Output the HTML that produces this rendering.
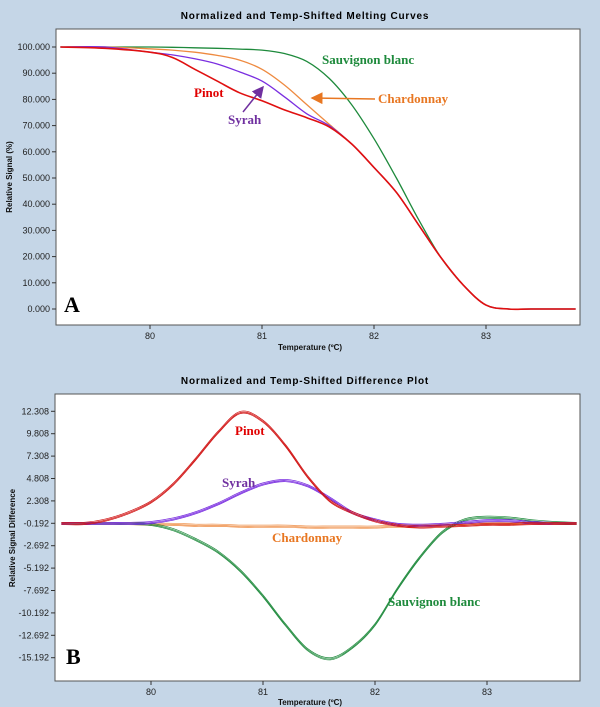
<!DOCTYPE html>
<html><head><meta charset="utf-8">
<style>
html,body{margin:0;padding:0;background:#c5d6e7;}
svg{display:block;}
.t{font-family:"Liberation Sans",sans-serif;font-weight:bold;font-size:10px;letter-spacing:0.8px;fill:#000}
.tk{font-family:"Liberation Sans",sans-serif;font-size:9px;fill:#222}
.ax{font-family:"Liberation Sans",sans-serif;font-size:8px;font-weight:bold;fill:#111}
.lb{font-family:"Liberation Serif",serif;font-weight:bold;font-size:13px}
.big{font-family:"Liberation Serif",serif;font-weight:bold;font-size:22px;fill:#000}
</style></head>
<body>
<svg id="c" width="600" height="707" xmlns="http://www.w3.org/2000/svg">
<defs>
<marker id="ap" markerWidth="8" markerHeight="8" refX="7" refY="4" orient="auto"><path d="M0,0 L8,4 L0,8 z" fill="#7030a0"/></marker>
<marker id="ao" markerWidth="8" markerHeight="8" refX="7" refY="4" orient="auto"><path d="M0,0 L8,4 L0,8 z" fill="#e87722"/></marker>
</defs>
<text class="t" x="305" y="19" text-anchor="middle">Normalized and Temp-Shifted Melting Curves</text>
<rect x="56" y="29" width="524" height="296" fill="#fff" stroke="#555"/>
<text class="t" x="305" y="384" text-anchor="middle">Normalized and Temp-Shifted Difference Plot</text>
<rect x="55" y="394" width="525" height="287" fill="#fff" stroke="#555"/>
<g id="ga"></g><g id="gb"></g>
<text class="ax" x="310" y="350" text-anchor="middle">Temperature (ºC)</text>
<text class="ax" x="310" y="705" text-anchor="middle">Temperature (ºC)</text>
<text class="ax" transform="translate(12,177) rotate(-90)" text-anchor="middle">Relative Signal (%)</text>
<text class="ax" transform="translate(15,538) rotate(-90)" text-anchor="middle">Relative Signal Difference</text>
<text class="lb" x="322" y="64" fill="#1e8a3c">Sauvignon blanc</text>
<text class="lb" x="378" y="103" fill="#e87722">Chardonnay</text>
<line x1="375" y1="99" x2="312" y2="98" stroke="#e87722" stroke-width="1.5" marker-end="url(#ao)"/>
<text class="lb" x="194" y="97" fill="#e00000">Pinot</text>
<text class="lb" x="228" y="124" fill="#7030a0">Syrah</text>
<line x1="243" y1="112" x2="263" y2="87" stroke="#7030a0" stroke-width="1.5" marker-end="url(#ap)"/>
<text class="big" x="64" y="312">A</text>
<text class="lb" x="235" y="435" fill="#e00000">Pinot</text>
<text class="lb" x="222" y="487" fill="#7030a0">Syrah</text>
<text class="lb" x="272" y="542" fill="#e87722">Chardonnay</text>
<text class="lb" x="388" y="606" fill="#1e8a3c">Sauvignon blanc</text>
<text class="big" x="66" y="664">B</text>
</svg>
<script>
const tempsA=[79.2,79.6,80.0,80.2,80.4,80.6,80.8,81.0,81.2,81.4,81.6,81.8,82.0,82.2,82.4,82.6,82.8,83.0,83.2,83.4,83.8];
const pinotA=[100,99.5,98,96,91.5,87,82.5,79.5,76,73,69.5,63,54,44.5,32,19.5,9,1.5,0,0,0];
const syrahA=[100,100,98,97,95.5,93.5,90.5,87,81,74.5,70,63,54,44.5,32,19.5,9,1.5,0,0,0];
const chardA=[100,100,99.3,98.8,98,96.8,95,91.5,85.5,78,70.5,63,54,44.5,32,19.5,9,1.5,0,0,0];
const sauvA=[100,100,100,99.9,99.7,99.5,99.2,98.8,97.5,94.5,88,78,65,50,34,19.5,9,1.5,0,0,0];
const tempsB=[79.2,79.4,79.6,79.8,80.0,80.2,80.4,80.6,80.8,81.0,81.2,81.4,81.6,81.8,82.0,82.2,82.4,82.6,82.8,83.0,83.2,83.4,83.6,83.8];
const pinotB=[-0.2,-0.2,0.2,1,2.2,4.2,7,10,12.2,11.2,8.5,5,2.3,1,0.1,-0.4,-0.6,-0.5,-0.4,-0.3,-0.3,-0.2,-0.2,-0.2];
const syrahB=[-0.2,-0.2,-0.2,-0.2,-0.1,0.3,1,2,3.2,4.2,4.6,4,2.6,1,0.2,-0.3,-0.4,-0.3,-0.1,0.1,0.1,-0.1,-0.2,-0.2];
const chardB=[-0.2,-0.2,-0.2,-0.2,-0.3,-0.3,-0.4,-0.4,-0.5,-0.5,-0.5,-0.6,-0.6,-0.6,-0.6,-0.5,-0.5,-0.4,-0.3,-0.2,-0.2,-0.2,-0.2,-0.2];
const sauvB=[-0.2,-0.2,-0.2,-0.2,-0.3,-0.9,-2,-3.4,-5.5,-8.3,-11.5,-14.3,-15.3,-14,-11.5,-7.5,-4,-1.2,0.2,0.5,0.4,0.1,-0.1,-0.2];
const ticksAY=[0,10,20,30,40,50,60,70,80,90,100];
const ticksBY=[-15.192,-12.692,-10.192,-7.692,-5.192,-2.692,-0.192,2.308,4.808,7.308,9.808,12.308];
const ticksX=[80,81,82,83];
const NS="http://www.w3.org/2000/svg";
const xA=t=>150+(t-80)*112, yA=v=>309-v*2.62;
const xB=t=>151+(t-80)*112, yB=v=>523.3-(v+0.192)*8.96;
function mk(tag,at,p){const e=document.createElementNS(NS,tag);for(const k in at)e.setAttribute(k,at[k]);p.appendChild(e);return e;}
function smooth(xs,ys,fx,fy){const p=xs.map((t,i)=>[fx(t),fy(ys[i])]);let d="M"+p[0][0]+","+p[0][1];for(let i=0;i<p.length-1;i++){const p0=p[i-1]||p[i],p1=p[i],p2=p[i+1],p3=p[i+2]||p2;d+="C"+(p1[0]+(p2[0]-p0[0])/6).toFixed(1)+","+(p1[1]+(p2[1]-p0[1])/6).toFixed(1)+" "+(p2[0]-(p3[0]-p1[0])/6).toFixed(1)+","+(p2[1]-(p3[1]-p1[1])/6).toFixed(1)+" "+p2[0].toFixed(1)+","+p2[1].toFixed(1);}return d;}
const ga=document.getElementById('ga'),gb=document.getElementById('gb');
ticksAY.forEach(v=>{
  mk('line',{x1:52,x2:56,y1:yA(v),y2:yA(v),stroke:'#333'},ga);
  const t=mk('text',{x:50,y:yA(v)+3,'text-anchor':'end',class:'tk'},ga);t.textContent=v.toFixed(3);
  
  
});
ticksBY.forEach(v=>{
  mk('line',{x1:51,x2:55,y1:yB(v),y2:yB(v),stroke:'#333'},gb);
  const t=mk('text',{x:49,y:yB(v)+3,'text-anchor':'end',class:'tk'},gb);t.textContent=v.toFixed(3);
  
  
});
ticksX.forEach(v=>{
  const t=mk('text',{x:xA(v),y:339,'text-anchor':'middle',class:'tk'},ga);t.textContent=v;
  
  
  mk('line',{x1:xA(v),x2:xA(v),y1:325,y2:329,stroke:'#333'},ga);
  const u=mk('text',{x:xB(v),y:695,'text-anchor':'middle',class:'tk'},gb);u.textContent=v;
  
  
  mk('line',{x1:xB(v),x2:xB(v),y1:681,y2:685,stroke:'#333'},gb);
});
function series(g,xs,ys,fx,fy,col,name,sw,offs){
  offs.forEach(o=>{
    const p=mk('path',{d:smooth(xs,ys,fx,fy),fill:'none',stroke:col,'stroke-width':sw,transform:'translate(0,'+o+')'},g);
    
    
  });
}
const oA=[0], oB=[-1,0.2,1.2];
series(ga,tempsA,sauvA,xA,yA,'#1e8a3c','line-sauvignon-a',1.3,oA);
series(ga,tempsA,chardA,xA,yA,'#ee8a40','line-chardonnay-a',1.3,oA);
series(ga,tempsA,syrahA,xA,yA,'#7a2ee0','line-syrah-a',1.3,oA);
series(ga,tempsA,pinotA,xA,yA,'#e01010','line-pinot-a',1.6,oA);
series(gb,tempsB,chardB,xB,yB,'#ee8a40','line-chardonnay-b',0.7,oB);
series(gb,tempsB,sauvB,xB,yB,'#1e8a3c','line-sauvignon-b',0.7,oB);
series(gb,tempsB,syrahB,xB,yB,'#7a2ee0','line-syrah-b',0.8,oB);
series(gb,tempsB,pinotB,xB,yB,'#d01010','line-pinot-b',0.7,oB);
</script>
</body></html>
